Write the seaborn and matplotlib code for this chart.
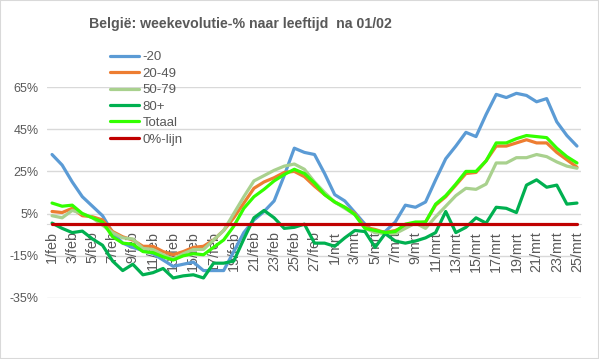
import pandas as pd
import seaborn as sns
import matplotlib.pyplot as plt
from matplotlib.patches import Rectangle

# days 1/feb .. 25/mrt (2021)
days = pd.date_range("2021-02-01", "2021-03-25")
day_labels = [f"{d.day}/{'feb' if d.month == 2 else 'mrt'}" for d in days]

# weekevolutie in %
age_u20 = [33, 28, 20, 13, 8.5, 4, -4, -9, -11, -12.5, -14, -17, -20, -19, -18, -22, -22, -22,
           -13, -4, 2, 6, 11, 23, 36, 34, 33, 24, 14, 11, 5.5, 0, -4, -3.5, 1, 9, 8, 10.5,
           21, 31, 37, 43.5, 41.5, 52, 61.5, 60, 62, 61, 58, 59.5, 48.5, 42, 37]
age_20_49 = [6, 5.5, 7.5, 4, 3.5, 2, -3.5, -6, -7.5, -10.5, -10.5, -13, -14.5, -13, -11, -10.5,
             -7.5, -3, 3, 10, 17, 20, 22, 24.5, 25, 22.5, 18, 14, 10.5, 8, 5, -1.5, -2.5, -4,
             -3, -1, 0.5, 1, 9, 13, 18.5, 24, 24.5, 30, 37, 37, 38.5, 40, 38.5, 38.5, 34, 30.5, 27]
age_50_79 = [4, 3, 6.5, 5, 3, -0.5, -4, -6.5, -7, -11.5, -12, -14.5, -16.5, -14, -12, -12,
             -7.5, -3, 5, 13, 20.5, 23, 25.5, 27.5, 28.5, 26, 20, 15, 10.5, 7.5, 4.5, -2, -4,
             -4.5, -4.5, -2, 0.5, -2, 3.5, 8.5, 13.5, 17, 16.5, 19, 29, 29, 31.5, 31.5, 33, 32,
             29.5, 27.5, 26.5]
age_80p = [0.5, -2, -4, -3.3, -7, -10, -17.5, -22, -19, -24, -23, -21, -25.5, -24.5, -24, -25.5,
           -18.5, -18.5, -17.5, -7, 3, 6.5, 3, -2, -1.5, 0, -9, -9, -10.5, -6.5, -3, -3.5, -11,
           -4.5, -8, -9, -8, -6.5, -4, 6, -4, -1.5, 3, 0.5, 8, 7.5, 5.5, 18.5, 21, 17.5, 18.5,
           9.5, 10]
totaal = [10, 8.5, 9, 5, 3, 1, -6, -9, -9.5, -13, -13.5, -15.5, -17, -15, -14, -14.5, -11,
          -7.5, -1, 7.5, 13, 16.5, 20.5, 23.5, 26, 24, 19.5, 14, 10.5, 8, 4.5, -2, -3, -4, -3.5,
          0, 1, 1, 9.5, 13.5, 19, 25, 25, 30, 38.5, 38.5, 40.5, 42, 41.5, 41, 36, 32, 29]
nul_lijn = [0] * len(days)

series_names = ["-20", "20-49", "50-79", "80+", "Totaal", "0%-lijn"]
colors = ["#5B9BD5", "#ED7D31", "#A9D18E", "#00B050", "#33FF00", "#C00000"]

frames = []
for name, vals in zip(series_names, [age_u20, age_20_49, age_50_79, age_80p, totaal, nul_lijn]):
    frames.append(pd.DataFrame({"dag": range(len(days)), "pct": vals, "reeks": name}))
df = pd.concat(frames, ignore_index=True)

sns.set_style("white")
plt.rcParams["font.family"] = ["Liberation Sans", "DejaVu Sans"]
txt = "#595959"

fig = plt.figure(figsize=(5.99, 3.59), dpi=100)
ax = fig.add_axes([47 / 599, 1 - 298 / 359, (581 - 47) / 599, (298 - 87) / 359])

for y in [65, 45, 25, 5, -15, -35]:
    ax.axhline(y, color="#D9D9D9", lw=1, zorder=0)

sns.lineplot(data=df, x="dag", y="pct", hue="reeks", hue_order=series_names,
             palette=dict(zip(series_names, colors)), linewidth=2.3, ax=ax, legend=True)

# category axis crosses at 0%
for s in ["top", "right", "left"]:
    ax.spines[s].set_visible(False)
ax.spines["bottom"].set_position(("data", 0))
ax.spines["bottom"].set_color("#D9D9D9")
ax.spines["bottom"].set_zorder(1)

ax.set_xlim(-0.5, 52.4)
ax.set_ylim(-35, 65)
ax.set_yticks([65, 45, 25, 5, -15, -35])
ax.set_yticklabels([f"{v}%" for v in [65, 45, 25, 5, -15, -35]], color=txt, fontsize=9)
ax.set_xticks(range(0, len(days), 2))
ax.set_xticklabels(day_labels[::2], rotation=90, color=txt, fontsize=10.3)
ax.set_xlabel("")
ax.set_ylabel("")
ax.tick_params(axis="x", length=3, color="#D9D9D9", pad=2)
ax.tick_params(axis="y", length=0, pad=6)

handles, labels = ax.get_legend_handles_labels()
ax.legend(handles, labels, loc="upper left", bbox_to_anchor=(110 / 599, 1 - 51 / 359),
          bbox_transform=fig.transFigure, frameon=False, fontsize=9.5, labelcolor=txt,
          handlelength=2.2, handletextpad=0.25, labelspacing=0.32, borderpad=0,
          borderaxespad=0)

fig.text(240 / 599, 1 - 24 / 359, "België: weekevolutie-% naar leeftijd  na 01/02",
         ha="center", va="center", fontsize=10.2, fontweight="bold", color=txt)

fig.patches.append(Rectangle((0, 0), 1, 1, transform=fig.transFigure, fill=False,
                             edgecolor="#D9D9D9", lw=1.5))

fig.savefig("out.png", dpi=100)
plt.close(fig)
